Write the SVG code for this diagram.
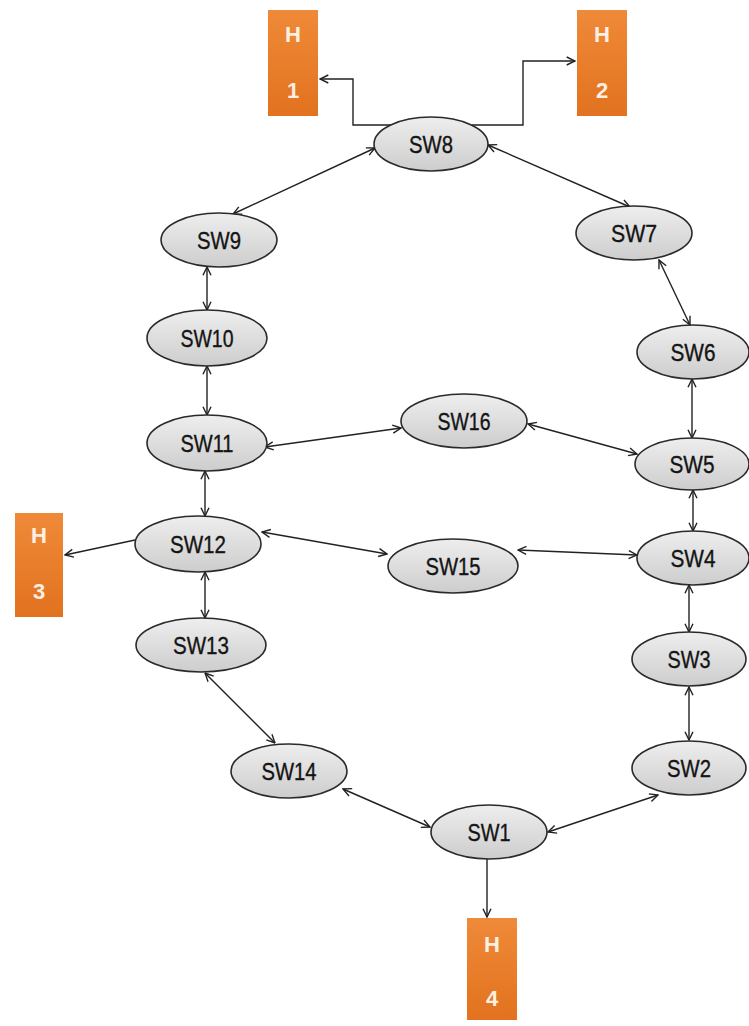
<svg xmlns="http://www.w3.org/2000/svg" width="749" height="1026" viewBox="0 0 749 1026">
  <style>
    .sw ellipse { fill: url(#swFill); stroke: #2a2a2a; stroke-width: 1.6; }
    .sw text { font-family: "Liberation Sans", Arial, sans-serif; font-size: 24px; fill: #141414; stroke: #141414; stroke-width: 0.35; text-anchor: middle; }
    .host rect { fill: url(#hostFill); }
    .host text { font-family: "Liberation Sans", Arial, sans-serif; font-size: 22px; font-weight: bold; fill: #fdf0e2; text-anchor: middle; }
    #links path, #links line { fill: none; stroke: #222; stroke-width: 1.4; }
    .bi { marker-start: url(#tip); marker-end: url(#tip); }
    .uni { marker-end: url(#tip); }
  </style>
  <defs>
    <linearGradient id="swFill" x1="0" y1="0" x2="0" y2="1">
      <stop offset="0" stop-color="#eeeeee"/>
      <stop offset="1" stop-color="#cdcdcd"/>
    </linearGradient>
    <linearGradient id="hostFill" x1="0" y1="0" x2="0" y2="1">
      <stop offset="0" stop-color="#ef8a38"/>
      <stop offset="1" stop-color="#e2721f"/>
    </linearGradient>
    <marker id="tip" viewBox="0 0 10 10" refX="9.3" refY="5" markerWidth="10" markerHeight="10" markerUnits="userSpaceOnUse" orient="auto-start-reverse">
      <path d="M1,1 L9.3,5 L1,9" fill="none" stroke="#222" stroke-width="1.4"/>
    </marker>
  </defs>

  <rect width="749" height="1026" fill="#ffffff"/>

  <!-- connectors -->
  <g id="links">
    <path class="uni" d="M391,125 H353 V79 H320"/>
    <path class="uni" d="M472,125 H523 V61 H575"/>
    <line class="bi" x1="233" y1="214" x2="375" y2="148"/>
    <line class="bi" x1="488" y1="145" x2="630" y2="207"/>
    <line class="bi" x1="207" y1="267" x2="207" y2="310"/>
    <line class="bi" x1="207" y1="366" x2="207" y2="415"/>
    <line class="bi" x1="265" y1="447" x2="401" y2="428"/>
    <line class="bi" x1="528" y1="424" x2="637" y2="454"/>
    <line class="bi" x1="659" y1="260" x2="690" y2="325"/>
    <line class="bi" x1="692" y1="379" x2="692" y2="438"/>
    <line class="bi" x1="693" y1="490" x2="693" y2="531"/>
    <line class="bi" x1="205" y1="471" x2="205" y2="516"/>
    <line class="uni" x1="135" y1="540" x2="65" y2="555"/>
    <line class="bi" x1="262" y1="532" x2="387" y2="554"/>
    <line class="bi" x1="518" y1="550" x2="637" y2="555"/>
    <line class="bi" x1="205" y1="572" x2="205" y2="618"/>
    <line class="bi" x1="689" y1="585" x2="689" y2="632"/>
    <line class="bi" x1="205" y1="673" x2="275" y2="743"/>
    <line class="bi" x1="689" y1="687" x2="689" y2="740"/>
    <line class="bi" x1="343" y1="789" x2="430" y2="827"/>
    <line class="bi" x1="658" y1="795" x2="548" y2="832"/>
    <line class="uni" x1="487" y1="859" x2="487" y2="917"/>
  </g>

  <!-- hosts -->
  <g id="H1" class="host"><rect x="268" y="10" width="50" height="106"/><text x="293" y="42">H</text><text x="293" y="98">1</text></g>
  <g id="H2" class="host"><rect x="577" y="10" width="50" height="106"/><text x="602" y="42">H</text><text x="602" y="98">2</text></g>
  <g id="H3" class="host"><rect x="15" y="513" width="48" height="104"/><text x="39" y="543">H</text><text x="39" y="599">3</text></g>
  <g id="H4" class="host"><rect x="467" y="918" width="50" height="102"/><text x="492" y="952">H</text><text x="492" y="1006">4</text></g>

  <!-- switches -->
  <g id="SW8" class="sw"><ellipse cx="431" cy="144" rx="57" ry="27"/><text x="431" y="153" textLength="44" lengthAdjust="spacingAndGlyphs">SW8</text></g>
  <g id="SW9" class="sw"><ellipse cx="219" cy="240" rx="58" ry="27"/><text x="219" y="249" textLength="44" lengthAdjust="spacingAndGlyphs">SW9</text></g>
  <g id="SW10" class="sw"><ellipse cx="207" cy="338" rx="60" ry="28"/><text x="207" y="347" textLength="53" lengthAdjust="spacingAndGlyphs">SW10</text></g>
  <g id="SW11" class="sw"><ellipse cx="207" cy="443" rx="60" ry="28"/><text x="207" y="452" textLength="53" lengthAdjust="spacingAndGlyphs">SW11</text></g>
  <g id="SW12" class="sw"><ellipse cx="198" cy="544" rx="63" ry="28"/><text x="198" y="553" textLength="56" lengthAdjust="spacingAndGlyphs">SW12</text></g>
  <g id="SW13" class="sw"><ellipse cx="201" cy="645" rx="65" ry="27"/><text x="201" y="654" textLength="56" lengthAdjust="spacingAndGlyphs">SW13</text></g>
  <g id="SW14" class="sw"><ellipse cx="289" cy="771" rx="58" ry="27"/><text x="289" y="780" textLength="55" lengthAdjust="spacingAndGlyphs">SW14</text></g>
  <g id="SW1" class="sw"><ellipse cx="489" cy="832" rx="58" ry="27"/><text x="489" y="841" textLength="43" lengthAdjust="spacingAndGlyphs">SW1</text></g>
  <g id="SW2" class="sw"><ellipse cx="689" cy="768" rx="57" ry="27"/><text x="689" y="777" textLength="44" lengthAdjust="spacingAndGlyphs">SW2</text></g>
  <g id="SW3" class="sw"><ellipse cx="689" cy="659" rx="57" ry="27"/><text x="689" y="668" textLength="43" lengthAdjust="spacingAndGlyphs">SW3</text></g>
  <g id="SW4" class="sw"><ellipse cx="693" cy="558" rx="56" ry="27"/><text x="693" y="567" textLength="45" lengthAdjust="spacingAndGlyphs">SW4</text></g>
  <g id="SW5" class="sw"><ellipse cx="692" cy="464" rx="57" ry="26"/><text x="692" y="473" textLength="45" lengthAdjust="spacingAndGlyphs">SW5</text></g>
  <g id="SW6" class="sw"><ellipse cx="693" cy="352" rx="56" ry="27"/><text x="693" y="361" textLength="45" lengthAdjust="spacingAndGlyphs">SW6</text></g>
  <g id="SW7" class="sw"><ellipse cx="634" cy="233" rx="58" ry="27"/><text x="634" y="242" textLength="46" lengthAdjust="spacingAndGlyphs">SW7</text></g>
  <g id="SW16" class="sw"><ellipse cx="464" cy="421" rx="63" ry="27"/><text x="464" y="430" textLength="53" lengthAdjust="spacingAndGlyphs">SW16</text></g>
  <g id="SW15" class="sw"><ellipse cx="453" cy="566" rx="65" ry="27"/><text x="453" y="575" textLength="55" lengthAdjust="spacingAndGlyphs">SW15</text></g>
</svg>
